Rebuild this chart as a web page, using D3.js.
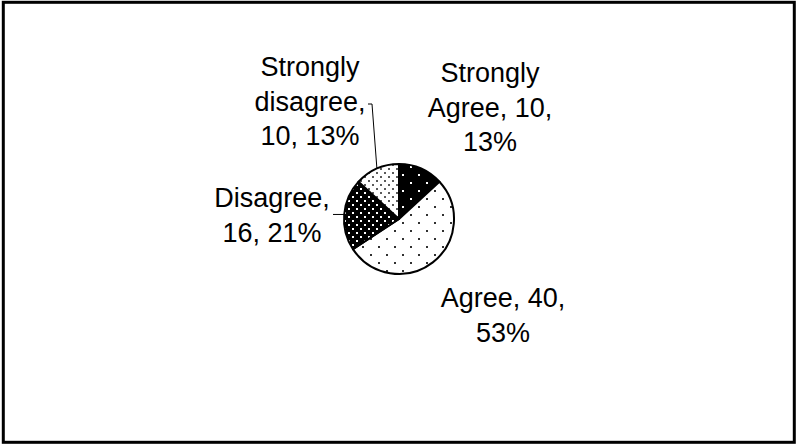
<!DOCTYPE html>
<html>
<head>
<meta charset="utf-8">
<script src="https://cdn.jsdelivr.net/npm/d3@7"></script>
<style>
  html, body { margin: 0; padding: 0; background: #fff; }
  svg { display: block; }
  text { font-family: "Liberation Sans", Arial, sans-serif; fill: #000; }
</style>
</head>
<body>
<svg id="chart" width="796" height="444"></svg>
<script>
// Survey responses, clockwise from twelve o'clock
const categories = ["Strongly Agree", "Agree", "Disagree", "Strongly disagree"];
const counts = [10, 40, 16, 10];
const percents = [13, 53, 21, 13];
const labelLines = [
  ["Strongly", "Agree, 10,", "13%"],
  ["Agree, 40,", "53%"],
  ["Disagree,", "16, 21%"],
  ["Strongly", "disagree,", "10, 13%"]
];

const W = 796, H = 444;
const cx = 399, cy = 219, R = 55;
const fontSize = 27, lineGap = 34.5;

const svg = d3.select("#chart");

// Frame
svg.append("rect")
  .attr("x", 3.3).attr("y", 2.3)
  .attr("width", 791).attr("height", 440)
  .attr("fill", "#fff").attr("stroke", "#000").attr("stroke-width", 3);

// Dot fills
const defs = svg.append("defs");
function dotPattern(id, size, bg, fg, r) {
  const p = defs.append("pattern")
    .attr("id", id).attr("patternUnits", "userSpaceOnUse")
    .attr("width", size).attr("height", size);
  p.append("rect").attr("width", size).attr("height", size).attr("fill", bg);
  [[size / 4, size / 4], [3 * size / 4, 3 * size / 4]].forEach(([x, y]) => {
    p.append("rect").attr("x", x - r).attr("y", y - r)
      .attr("width", 2 * r).attr("height", 2 * r).attr("fill", fg);
  });
}
dotPattern("p-sa", 16, "#000", "#fff", 1);
dotPattern("p-a", 16, "#fff", "#000", 0.9);
dotPattern("p-d", 8, "#000", "#fff", 1);
dotPattern("p-sd", 8, "#fff", "#000", 0.8);
const fills = ["url(#p-sa)", "url(#p-a)", "url(#p-d)", "url(#p-sd)"];

const pie = d3.pie().sort(null).value(d => d)(counts);
const arc = d3.arc().innerRadius(0).outerRadius(R);

const g = svg.append("g").attr("transform", `translate(${cx},${cy})`);
g.selectAll("path.slice")
  .data(pie)
  .join("path")
  .attr("class", "slice")
  .attr("d", arc)
  .attr("fill", (d, i) => fills[i])
  .attr("stroke", "#000")
  .attr("stroke-width", 2)
  .attr("stroke-linejoin", "round");

// Label blocks: centre x and first baseline
const labelPos = [
  { x: 490, y: 82 },
  { x: 503, y: 307 },
  { x: 272, y: 207 },
  { x: 310, y: 76 }
];

labelLines.forEach((lines, i) => {
  const t = svg.append("text")
    .attr("text-anchor", "middle")
    .attr("font-size", fontSize);
  lines.forEach((s, k) => {
    t.append("tspan")
      .attr("x", labelPos[i].x)
      .attr("y", labelPos[i].y + k * lineGap)
      .text(s);
  });
});

// Leader lines to the slices with labels set back from the pie
function edgePoint(d) {
  const a = (d.startAngle + d.endAngle) / 2;
  return [cx + R * Math.sin(a), cy - R * Math.cos(a)];
}
const leader = d3.line();
const pSD = edgePoint(pie[3]);
svg.append("path")
  .attr("d", leader([[368, 104], [372, 104], pSD]))
  .attr("fill", "none").attr("stroke", "#000").attr("stroke-width", 1);
const pD = edgePoint(pie[2]);
svg.append("path")
  .attr("d", leader([[333, pD[1]], pD]))
  .attr("fill", "none").attr("stroke", "#000").attr("stroke-width", 1);
</script>
</body>
</html>
